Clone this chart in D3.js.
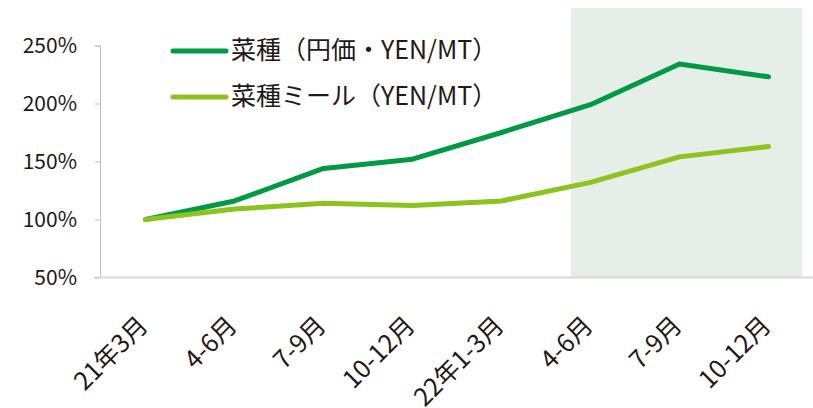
<!DOCTYPE html>
<html>
<head>
<meta charset="utf-8">
<script src="https://cdn.jsdelivr.net/npm/d3@7"></script>
<style>
  html, body { margin: 0; padding: 0; background: #fff; }
  svg { display: block; }
</style>
</head>
<body>
<div id="chart"></div>
<script>
// data
const categories = ["21年3月", "4-6月", "7-9月", "10-12月", "22年1-3月", "4-6月", "7-9月", "10-12月"]
const rapeseed = [100, 116, 144, 152, 175, 199, 234, 223]
const rapeseedMeal = [100, 109, 114, 112, 116, 132, 154, 163]
const yTicks = [50, 100, 150, 200, 250]
const seriesNames = ["菜種（円価・YEN/MT）", "菜種ミール（YEN/MT）"]
const seriesColors = ["#009a44", "#8dc21f"]
const shadedFrom = 5 // forecast region starts at 22年4-6月

const width = 813
const height = 408
const font = "'Noto Sans CJK JP', 'Noto Sans', sans-serif"
const textColor = "#231815"

const svg = d3.select("#chart")
  .append("svg")
  .attr("width", width)
  .attr("height", height)
  .attr("viewBox", `0 0 ${width} ${height}`)

const x = d3.scalePoint()
  .domain(d3.range(categories.length))
  .range([101, 813])
  .padding(0.5)

const y = d3.scaleLinear()
  .domain([50, 250])
  .range([277.5, 45.5])

const step = x.step()

// shaded region
const sx0 = x(shadedFrom) - 0.22 * step
const sx1 = x(categories.length - 1) + 0.38 * step
svg.append("rect")
  .attr("x", sx0)
  .attr("y", 8)
  .attr("width", sx1 - sx0)
  .attr("height", y(50) - 8)
  .attr("fill", "#e5efe7")

// y axis
const yAxis = svg.append("g")
  .attr("transform", "translate(100,0)")
  .call(d3.axisLeft(y).tickValues(yTicks).tickSize(5).tickPadding(18).tickFormat(d => d + "%"))

yAxis.select(".domain").attr("stroke", "#bfbfbf")
yAxis.selectAll(".tick line").attr("stroke", "#bfbfbf")
yAxis.selectAll(".tick text")
  .attr("font-family", font)
  .attr("font-size", "21px")
  .attr("fill", textColor)

// baseline
svg.append("line")
  .attr("x1", 94).attr("x2", width)
  .attr("y1", y(50)).attr("y2", y(50))
  .attr("stroke", "#d9d9d9")
  .attr("stroke-width", 2)

// x labels
svg.append("g")
  .selectAll("text")
  .data(categories)
  .join("text")
  .attr("transform", (d, i) => `translate(${x(i) + 4},${327}) rotate(-45)`)
  .attr("text-anchor", "end")
  .attr("font-family", font)
  .attr("font-size", "25px")
  .attr("fill", textColor)
  .text(d => d)

// lines
const line = d3.line()
  .x((d, i) => x(i))
  .y(d => y(d))

;[rapeseed, rapeseedMeal].forEach((s, k) => {
  svg.append("path")
    .datum(s)
    .attr("d", line)
    .attr("fill", "none")
    .attr("stroke", seriesColors[k])
    .attr("stroke-width", 5)
    .attr("stroke-linecap", "round")
    .attr("stroke-linejoin", "round")
})

// legend
const legend = svg.append("g")
seriesNames.forEach((name, k) => {
  const ly = 51 + k * 46
  legend.append("line")
    .attr("x1", 173).attr("x2", 226)
    .attr("y1", ly).attr("y2", ly)
    .attr("stroke", seriesColors[k])
    .attr("stroke-width", 5)
    .attr("stroke-linecap", "round")
  legend.append("text")
    .attr("x", 231)
    .attr("y", ly + 8)
    .attr("font-family", font)
    .attr("font-size", "25px")
    .attr("fill", textColor)
    .text(name)
})
</script>
</body>
</html>
